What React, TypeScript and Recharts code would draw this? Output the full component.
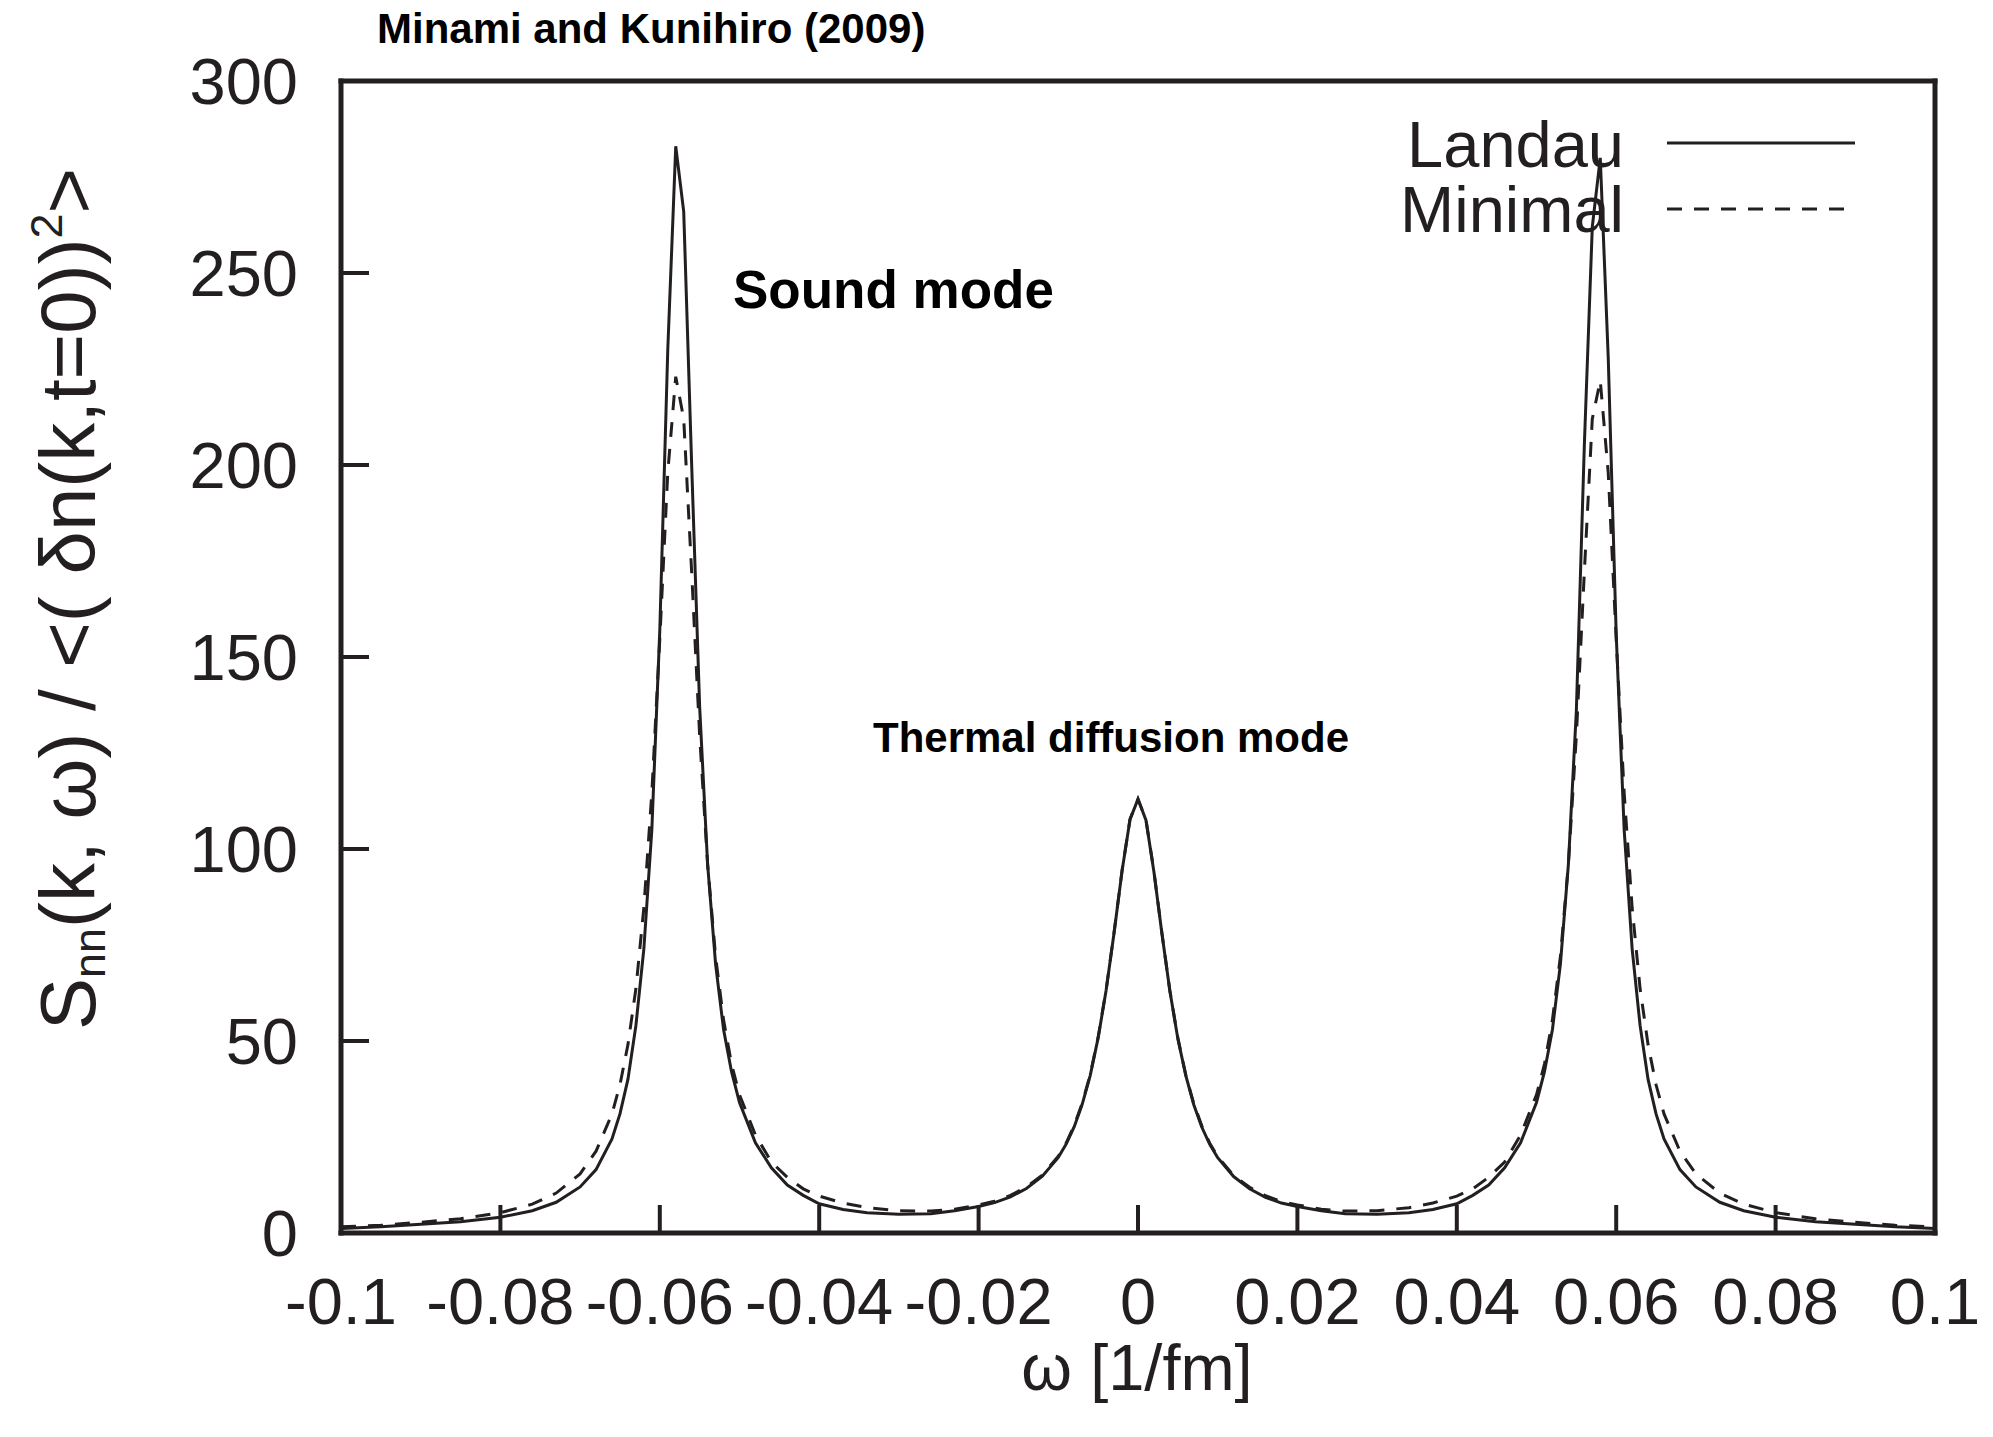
import React from 'react';
import { LineChart, Line, XAxis, YAxis, Legend, Customized } from 'recharts';

const W = 1993;
const H = 1437;
const INK = '#231f20';
const FONT = '"Liberation Sans", Arial, Helvetica, sans-serif';

// omega [1/fm]
const omega = [
  -0.1, -0.095, -0.09, -0.085, -0.08, -0.076, -0.073, -0.07, -0.068, -0.066,
  -0.065, -0.064, -0.063, -0.062, -0.061, -0.06, -0.059, -0.058, -0.057, -0.056,
  -0.055, -0.054, -0.053, -0.052, -0.051, -0.05, -0.048, -0.046, -0.044, -0.042,
  -0.04, -0.037, -0.034, -0.03, -0.026, -0.023, -0.02, -0.018, -0.016, -0.014,
  -0.012, -0.01, -0.009, -0.008, -0.007, -0.006, -0.005, -0.004, -0.003, -0.002,
  -0.001, 0, 0.001, 0.002, 0.003, 0.004, 0.005, 0.006, 0.007, 0.008,
  0.009, 0.01, 0.012, 0.014, 0.016, 0.018, 0.02, 0.023, 0.026, 0.03,
  0.034, 0.037, 0.04, 0.042, 0.044, 0.046, 0.048, 0.05, 0.051, 0.052,
  0.053, 0.054, 0.055, 0.056, 0.057, 0.058, 0.059, 0.06, 0.061, 0.062,
  0.063, 0.064, 0.065, 0.066, 0.068, 0.07, 0.073, 0.076, 0.08, 0.085,
  0.09, 0.095, 0.1,
];

// Landau (solid)
const landau = [
  1.2, 1.6, 2.3, 2.9, 4.1, 5.8, 8.0, 12.0, 16.5, 24.5,
  31, 40, 54, 74, 105, 157, 230, 283, 266, 200,
  137, 96, 70, 53, 42, 34, 23.5, 17, 12.5, 9.8,
  7.6, 6.1, 5.3, 4.9, 5.0, 5.8, 6.9, 7.9, 9.4, 11.6,
  14.8, 19.7, 23.2, 27.7, 33.5, 41, 50.8, 63.2, 78.2, 94.3,
  107.7, 113, 107.5, 94, 78, 63, 50.6, 41, 33.4, 27.6,
  23.1, 19.6, 14.7, 11.5, 9.3, 7.8, 6.9, 5.8, 5.0, 4.9,
  5.3, 6.1, 7.6, 9.8, 12.5, 17, 23.5, 34, 42, 53,
  70, 96, 136, 205, 262, 280, 228, 156, 105, 74,
  54, 40, 31, 24.5, 16.5, 12, 8, 5.8, 4.1, 2.9,
  2.3, 1.6, 1.2,
];

// Minimal (dashed)
const minimal = [
  1.6, 2.0, 2.8, 3.7, 5.3, 7.5, 10.4, 15.4, 21.3, 31,
  38.6, 49, 63.6, 84.7, 114.6, 154.7, 198, 223, 212, 172,
  129.5, 96, 72, 55.5, 44, 36, 25.5, 18.5, 14.5, 11.5,
  9.6, 7.8, 6.6, 5.8, 5.7, 6.2, 7.3, 8.3, 9.8, 12.0,
  15.1, 20.0, 23.5, 28, 33.8, 41.2, 51, 63.3, 78.3, 94.4,
  107.8, 113, 107.6, 94.2, 78.1, 63.1, 50.8, 41.1, 33.7, 27.9,
  23.4, 19.9, 15.0, 11.9, 9.7, 8.2, 7.3, 6.2, 5.7, 5.8,
  6.6, 7.8, 9.6, 11.5, 14.5, 18.5, 25.5, 36, 44, 55.5,
  72, 96, 129.5, 172, 212, 222, 198, 154.7, 114.6, 84.7,
  63.6, 49, 38.6, 31, 21.3, 15.4, 10.4, 7.5, 5.3, 3.7,
  2.8, 2.0, 1.6,
];

const xTicks = [-0.1, -0.08, -0.06, -0.04, -0.02, 0, 0.02, 0.04, 0.06, 0.08, 0.1];
const yTicks = [0, 50, 100, 150, 200, 250, 300];

const data = omega.map((w, i) => ({ w, landau: landau[i], minimal: minimal[i] }));

const tickFont = { fontSize: 65, fontFamily: FONT, fill: INK };
const frame = { stroke: INK, strokeWidth: 5, strokeLinecap: 'square' as const };
const tickLine = { stroke: INK, strokeWidth: 4 };

// legend drawn like gnuplot's key: label on the left, line sample on the right
const Key = ({ payload }: any) => (
  <svg width={520} height={160} style={{ overflow: 'visible' }}>
    {(payload || []).map((p: any, i: number) => (
      <g key={p.value}>
        <text
          x={224}
          y={67 + i * 65}
          textAnchor="end"
          fontSize={65}
          fontFamily={FONT}
          fill={INK}
        >
          {p.value}
        </text>
        <line
          x1={267}
          x2={455}
          y1={43 + i * 66}
          y2={43 + i * 66}
          stroke={INK}
          strokeWidth={3}
          strokeDasharray={p.payload?.strokeDasharray}
        />
      </g>
    ))}
  </svg>
);

const Notes = () => (
  <g fontFamily={FONT}>
    <text x={377} y={43} fontSize={42} fontWeight="bold" fill="#000">
      Minami and Kunihiro (2009)
    </text>
    <text x={733} y={308} fontSize={53} fontWeight="bold" fill="#000">
      Sound mode
    </text>
    <text x={873} y={752} fontSize={42} fontWeight="bold" fill="#000">
      Thermal diffusion mode
    </text>
    <text x={1137} y={1390} fontSize={65} textAnchor="middle" fill={INK}>
      ω [1/fm]
    </text>
    <text transform="translate(95, 1030) rotate(-90)" fontSize={78} fill={INK}>
      S
      <tspan fontSize={45} dy={10}>nn</tspan>
      <tspan dy={-10}>(k, ω) / &lt;( δn(k,t=0))</tspan>
      <tspan fontSize={45} dy={-33}>2</tspan>
      <tspan dy={33}>&gt;</tspan>
    </text>
  </g>
);

export default function App() {
  return (
    <div style={{ position: 'absolute', left: 0, top: 0, background: '#fff' }}>
      <LineChart
        width={W}
        height={H}
        data={data}
        margin={{ top: 80, right: 57, bottom: 104, left: 241 }}
      >
        <XAxis
          xAxisId="x"
          dataKey="w"
          type="number"
          domain={[-0.1, 0.1]}
          ticks={xTicks}
          interval={0}
          allowDataOverflow
          height={100}
          tickSize={-28}
          tickMargin={73}
          axisLine={frame}
          tickLine={tickLine}
          tick={tickFont}
        />
        <XAxis
          xAxisId="xt"
          orientation="top"
          type="number"
          domain={[-0.1, 0.1]}
          ticks={xTicks}
          interval={0}
          allowDataOverflow
          height={1}
          tickSize={-28}
          axisLine={frame}
          tickLine={tickLine}
          tick={false}
        />
        <YAxis
          yAxisId="y"
          type="number"
          domain={[0, 300]}
          ticks={yTicks}
          interval={0}
          allowDataOverflow
          width={100}
          tickSize={-28}
          tickMargin={71}
          axisLine={frame}
          tickLine={tickLine}
          tick={tickFont}
        />
        <YAxis
          yAxisId="yr"
          orientation="right"
          type="number"
          domain={[0, 300]}
          ticks={yTicks}
          interval={0}
          allowDataOverflow
          width={1}
          tickSize={-28}
          axisLine={frame}
          tickLine={tickLine}
          tick={false}
        />
        <Legend
          layout="vertical"
          align="center"
          verticalAlign="middle"
          width={520}
          height={160}
          wrapperStyle={{ left: 1400, top: 100 }}
          content={<Key />}
        />
        <Line
          xAxisId="x"
          yAxisId="y"
          type="linear"
          dataKey="landau"
          name="Landau"
          stroke={INK}
          strokeWidth={3}
          dot={false}
          isAnimationActive={false}
        />
        <Line
          xAxisId="x"
          yAxisId="y"
          type="linear"
          dataKey="minimal"
          name="Minimal"
          stroke={INK}
          strokeWidth={3}
          strokeDasharray="15 12"
          dot={false}
          isAnimationActive={false}
        />
        <Customized component={Notes} />
      </LineChart>
    </div>
  );
}
